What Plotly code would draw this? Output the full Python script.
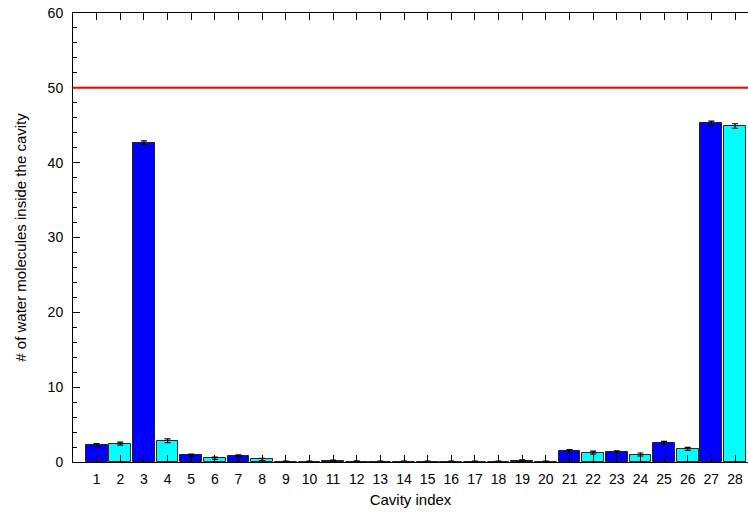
import plotly.graph_objects as go

cavity = list(range(1, 29))
waters = [2.25, 2.45, 42.65, 2.85, 0.9, 0.5, 0.8, 0.35, 0.02, 0.02, 0.15, 0.05, 0.02, 0.02,
          0.02, 0.02, 0.02, 0.02, 0.2, 0.02, 1.45, 1.25, 1.3, 1.0, 2.55, 1.75, 45.25, 44.9]
errors = [0.2, 0.2, 0.25, 0.25, 0.15, 0.15, 0.15, 0.15, 0.1, 0.1, 0.1, 0.1, 0.1, 0.1,
          0.1, 0.1, 0.1, 0.1, 0.1, 0.1, 0.2, 0.2, 0.2, 0.2, 0.2, 0.2, 0.3, 0.3]
reference_level = 50
bar_colors = ["#0000ff" if c % 2 == 1 else "#00ffff" for c in cavity]

fig = go.Figure()
fig.add_trace(go.Bar(
    x=cavity, y=waters, width=0.92,
    marker=dict(color=bar_colors, line=dict(color="#222222", width=1)),
    error_y=dict(type="data", array=errors, color="black", thickness=1.2, width=3),
    showlegend=False,
))
fig.add_shape(type="line", xref="paper", x0=0, x1=1, yref="y", y0=reference_level, y1=reference_level,
              line=dict(color="red", width=2))

fig.update_layout(
    width=748, height=518,
    margin=dict(l=73, r=0, t=13, b=56),
    plot_bgcolor="white", paper_bgcolor="white",
    font=dict(family="Liberation Sans, Arial, sans-serif", size=14, color="black"),
    bargap=0,
    xaxis=dict(range=[0, 28.55], tickmode="array", tickvals=cavity, ticktext=[str(c) for c in cavity],
               ticks="inside", ticklen=7, tickcolor="black", mirror="ticks", showline=True,
               linecolor="black", linewidth=1, showgrid=False, zeroline=False,
               ticklabelstandoff=4, ticklabeloverflow="allow",
               title=dict(text="Cavity index", font=dict(size=15), standoff=8)),
    yaxis=dict(range=[0, 60], dtick=10, ticks="inside", ticklen=7, tickcolor="black",
               mirror=False, showline=True, linecolor="black", linewidth=1, showgrid=False,
               zeroline=False, ticklabelstandoff=6, ticklabeloverflow="allow",
               minor=dict(dtick=2, ticks="inside", ticklen=4, tickcolor="black"),
               title=dict(text="# of water molecules inside the cavity", font=dict(size=15), standoff=17)),
)

fig.write_html("out.html", config={"displayModeBar": False},
               post_script="document.body.style.margin='0';document.body.style.overflow='hidden';")
